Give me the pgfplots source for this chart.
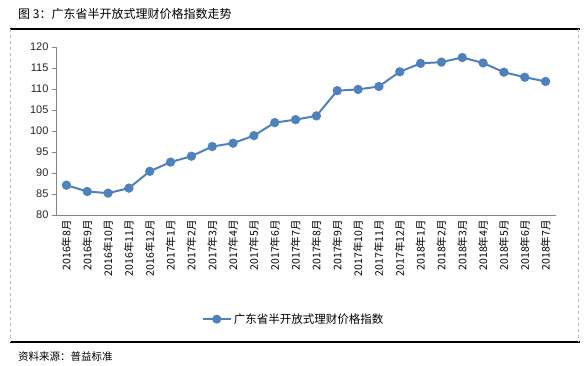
\documentclass[border=0pt]{standalone}
\usepackage{pgfplots}
\pgfplotsset{compat=1.18}
\usepackage{fontspec}
\setmainfont{Liberation Sans}
\newfontfamily\cjk{Noto Sans CJK SC}
\definecolor{serblue}{RGB}{79,129,189}
\definecolor{axgray}{RGB}{134,134,134}
\begin{document}
\begin{tikzpicture}[x=1pt,y=1pt]
\useasboundingbox (0,0) rectangle (588,366);
% frame
\draw[black, line width=1.2pt] (10,337) -- (580,337);
\draw[black, line width=1.2pt] (10,24) -- (580,24);
\draw[gray!50, dashed, line width=0.6pt] (10.5,337) -- (10.5,24);
\draw[gray!50, dashed, line width=0.6pt] (578,337) -- (578,24);
\node[anchor=west, inner sep=0pt, font=\cjk\fontsize{12}{13}\selectfont] at (18,352) {图 3：广东省半开放式理财价格指数走势};
\node[anchor=west, inner sep=0pt, font=\cjk\fontsize{10.5}{12}\selectfont] at (18,9) {资料来源：普益标准};
\begin{axis}[
  at={(56pt,151pt)}, anchor=south west,
  width=500pt, height=168pt, scale only axis,
  xmin=-0.5, xmax=23.5, ymin=80, ymax=120,
  ytick={80,85,...,120},
  axis x line*=bottom, axis y line*=left,
  axis line style={axgray, line width=0.8pt},
  tick style={axgray, line width=0.8pt},
  tick align=outside,
  major tick length=4pt,
  xtick={0,...,23},
  x tick style={draw=none},
  minor xtick={-0.5,0.5,...,23.5},
  minor x tick style={axgray, line width=0.8pt, /pgfplots/minor tick length=5pt},
  xticklabels={2016年8月,2016年9月,2016年10月,2016年11月,2016年12月,2017年1月,2017年2月,2017年3月,2017年4月,2017年5月,2017年6月,2017年7月,2017年8月,2017年9月,2017年10月,2017年11月,2017年12月,2018年1月,2018年2月,2018年3月,2018年4月,2018年5月,2018年6月,2018年7月},
  xticklabel style={rotate=90, anchor=east, font=\cjk\fontsize{10.5}{12}\selectfont, inner sep=1pt},
  yticklabel style={font=\fontsize{11}{13}\selectfont, text=black!85},
  /pgf/number format/assume math mode=true,
  legend style={at={(0.475,-0.62)}, anchor=center, draw=none, fill=none, font=\cjk\fontsize{11.5}{12}\selectfont},
  legend image code/.code={\draw[#1, line width=2pt] (0pt,0pt) -- (28pt,0pt); \fill[serblue] (14pt,0pt) circle (3.5pt);},
  clip=false,
]
\addplot[serblue, line width=2pt, mark=*, mark size=3.6pt, mark options={fill=serblue, draw=serblue}] coordinates {
(0,87.1) (1,85.6) (2,85.2) (3,86.4) (4,90.4) (5,92.6) (6,94.0) (7,96.3)
(8,97.1) (9,98.9) (10,102.0) (11,102.7) (12,103.6) (13,109.6) (14,109.9) (15,110.6)
(16,114.1) (17,116.1) (18,116.4) (19,117.5) (20,116.2) (21,114.0) (22,112.8) (23,111.8)
};
\addlegendentry{广东省半开放式理财价格指数}
\end{axis}
\end{tikzpicture}
\end{document}
